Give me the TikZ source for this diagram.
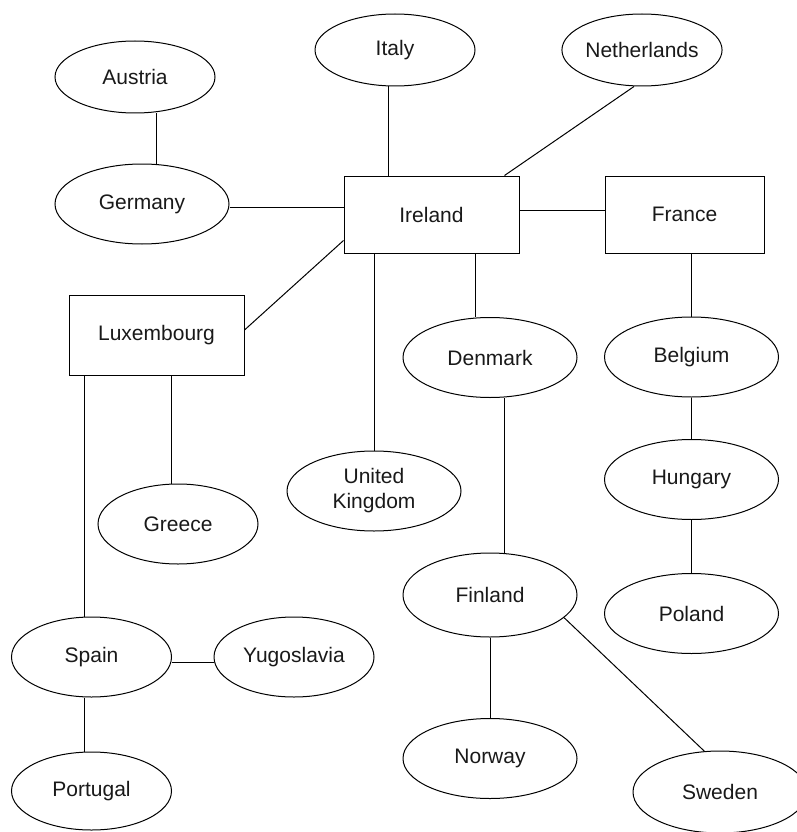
\documentclass[tikz,border=0pt]{standalone}
\usepackage{fontspec}
\setmainfont{Liberation Sans}
\usetikzlibrary{shapes.geometric}

\begin{document}
\begin{tikzpicture}[
            x=1pt, y=-1pt,
            line width=1pt,
                base/.style = {draw=black, inner sep=0pt, text=black!90,
                            font=\fontsize{21}{25}\selectfont},
                smallOval/.style = {base, ellipse, minimum width=160pt, minimum height=72pt},
                oval/.style = {base, ellipse, minimum width=160pt, minimum height=80pt},
                wideOval/.style = {base, ellipse, minimum width=174pt, minimum height=80pt},
                box/.style = {base, rectangle, minimum width=175pt, minimum height=77pt},
            align=center]
            \useasboundingbox (0,0) rectangle (797,832);
            % top row
            \node (austria) [smallOval] at (135,77) {Austria};
            \node (italy) [smallOval] at (395,50) {Italy};
            \node (netherlands) [smallOval] at (642,50) {Netherlands};
            \node (germany) [wideOval] at (142,204) {Germany};
            % boxes
            \node (ireland) [box] at (431.5,214.5) {Ireland};
            \node (france) [box, minimum width=159pt] at (684.5,214.5) {France};
            \node (luxembourg) [box, minimum height=80pt] at (156.5,335) {Luxembourg};
            % middle
            \node (denmark) [wideOval] at (490,357.5) {Denmark};
            \node (belgium) [wideOval] at (691.5,357) {Belgium};
            \node (hungary) [wideOval] at (691.5,479.5) {Hungary};
            \node (uk) [wideOval] at (374,491) {United\\Kingdom};
            \node (greece) [oval] at (178,524) {Greece};
            % bottom
            \node (finland) [wideOval, minimum height=84pt] at (490,595) {Finland};
            \node (poland) [wideOval] at (691.5,613.5) {Poland};
            \node (spain) [oval] at (91.5,657) {Spain};
            \node (yugoslavia) [oval] at (294,657) {Yugoslavia};
            \node (norway) [wideOval] at (490,758.5) {Norway};
            \node (portugal) [oval, minimum height=78pt] at (91.5,791) {Portugal};
            \node (sweden) [wideOval, minimum height=82pt] at (720,792) {Sweden};
            % links
            \draw ([xshift=21pt]austria.south) -- ([xshift=14pt]germany.north);
            \draw ([yshift=-3pt]germany.east) -- ([yshift=-3pt]germany.east -| ireland.west);
            \draw ([xshift=-7pt]italy.south) -- ([xshift=-7pt]italy.south |- ireland.north);
            \draw ([xshift=-8pt]netherlands.south) -- ([xshift=-15pt]ireland.north east);
            \draw[line width=1.5pt] ([yshift=4pt]ireland.east) -- ([yshift=4pt]france.west);
            \draw ([yshift=13pt]ireland.south west) -- ([yshift=5pt]luxembourg.east);
            \draw (uk.north |- ireland.south) -- (uk.north);
            \draw ([xshift=-15pt]denmark.north |- ireland.south) -- ([xshift=-15pt]denmark.north);
            \draw (belgium.north |- france.south) -- (belgium.north);
            \draw (belgium) -- (hungary);
            \draw (hungary) -- (poland);
            \draw ([xshift=14pt]denmark.south) -- ([xshift=14pt]finland.north);
            \draw (finland) -- (norway);
            \draw (finland.-17) -- (sweden.111);
            \draw ([xshift=-7pt]greece.north |- luxembourg.south) -- ([xshift=-7pt]greece.north);
            \draw ([xshift=-7.5pt]spain.north |- luxembourg.south) -- ([xshift=-7.5pt]spain.north);
            \draw ([yshift=-5pt]spain.east) -- ([yshift=-5pt]yugoslavia.west);
            \draw ([xshift=-7.5pt]spain.south) -- ([xshift=-7.5pt]portugal.north);
        \end{tikzpicture}
\end{document}
